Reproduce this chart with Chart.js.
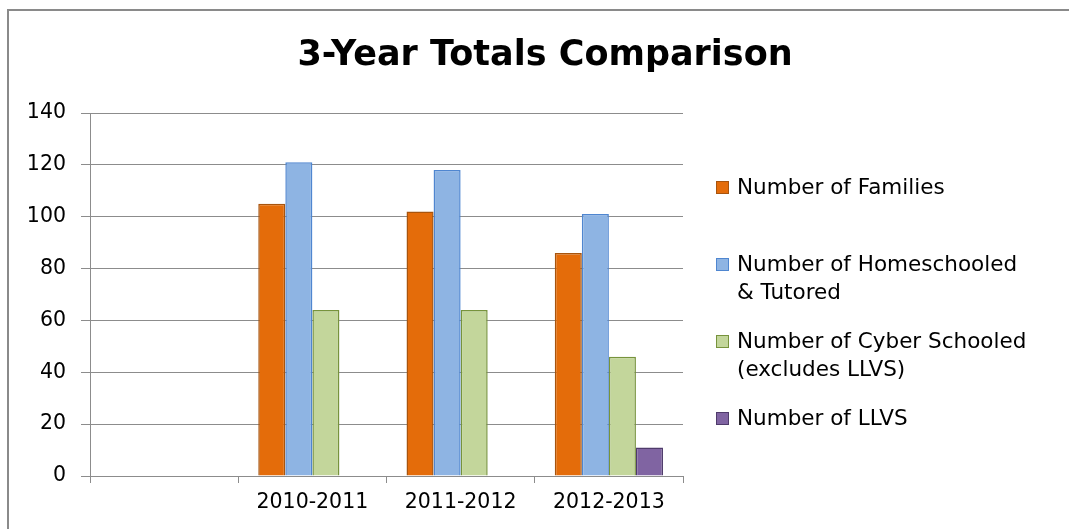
<!DOCTYPE html>
<html>
<head>
<meta charset="utf-8">
<title>3-Year Totals Comparison</title>
<script src="https://cdn.jsdelivr.net/npm/chart.js@4"></script>
<style>
  body { margin: 0; background: #fff; }
  canvas { display: block; }
</style>
</head>
<body>
<canvas id="chart" width="1069" height="529"></canvas>
<script>
const categories = ['', '2010-2011', '2011-2012', '2012-2013'];
const families = [null, 105, 102, 86];
const homeschooled = [null, 121, 118, 101];
const cyberSchooled = [null, 64, 64, 46];
const llvs = [null, null, null, 11];
const seriesLabels = [
    ['Number of Families'],
    ['Number of Homeschooled', '& Tutored'],
    ['Number of Cyber Schooled', '(excludes LLVS)'],
    ['Number of LLVS']
];
const yTicks = [0, 20, 40, 60, 80, 100, 120, 140];

const FONT = '"DejaVu Sans", "Open Sans", sans-serif';
const gridColor = '#8c8c8c';

// frame, title and the wrapped legend on the right
const decorations = {
    id: 'decorations',
    beforeDraw(chart) {
        const ctx = chart.ctx;
        ctx.save();
        ctx.strokeStyle = '#8a8a8a';
        ctx.lineWidth = 2;
        ctx.strokeRect(8, 10, 1200, 700);
        ctx.restore();
    },
    afterDraw(chart) {
        const ctx = chart.ctx;
        ctx.save();
        ctx.fillStyle = '#000';
        ctx.font = 'bold 35px ' + FONT;
        ctx.textAlign = 'center';
        ctx.textBaseline = 'middle';
        ctx.fillText('3-Year Totals Comparison', 545, 56);

        ctx.font = '21.5px ' + FONT;
        ctx.textAlign = 'left';
        const top = 188, step = 77, lineHeight = 28;
        chart.data.datasets.forEach(function(ds, i) {
            const y = top + i * step;
            ctx.fillStyle = ds.backgroundColor;
            ctx.fillRect(716, y - 7, 13, 13);
            ctx.strokeStyle = ds.borderColor;
            ctx.lineWidth = 1;
            ctx.strokeRect(716.5, y - 6.5, 12, 12);
            ctx.fillStyle = '#000';
            seriesLabels[i].forEach(function(line, j) {
                ctx.fillText(line, 737, y + j * lineHeight);
            });
        });
        ctx.restore();
    }
};

new Chart(document.getElementById('chart'), {
    type: 'bar',
    data: {
        labels: categories,
        datasets: [
            { label: seriesLabels[0].join(' '), data: families, backgroundColor: '#e46c0a', borderColor: '#a8540d' },
            { label: seriesLabels[1].join(' '), data: homeschooled, backgroundColor: '#8eb4e3', borderColor: '#4f86d0' },
            { label: seriesLabels[2].join(' '), data: cyberSchooled, backgroundColor: '#c3d69b', borderColor: '#77933c' },
            { label: seriesLabels[3].join(' '), data: llvs, backgroundColor: '#8064a2', borderColor: '#4f3b6b' }
        ]
    },
    options: {
        responsive: false,
        animation: false,
        datasets: {
            bar: { borderWidth: 1.5, categoryPercentage: 0.73, barPercentage: 1 }
        },
        layout: { padding: { top: 113, right: 386, left: 0, bottom: 0 } },
        plugins: {
            legend: { display: false },
            title: { display: false },
            tooltip: { enabled: false }
        },
        scales: {
            x: {
                grid: { display: true, drawOnChartArea: false, color: gridColor, tickLength: 7, offset: true },
                border: { color: gridColor },
                ticks: { color: '#000', font: { family: FONT, size: 20.5 }, padding: 7 },
                afterFit(scale) { scale.height = 53; }
            },
            y: {
                min: 0,
                max: 140,
                grid: { color: gridColor, tickLength: 9 },
                border: { color: gridColor },
                ticks: {
                    color: '#000',
                    font: { family: FONT, size: 20.5 },
                    padding: 15,
                    stepSize: 20,
                    callback: function(value) { return yTicks.includes(value) ? value : ''; }
                },
                afterFit(scale) { scale.width = 90; }
            }
        }
    },
    plugins: [decorations]
});
</script>
</body>
</html>
